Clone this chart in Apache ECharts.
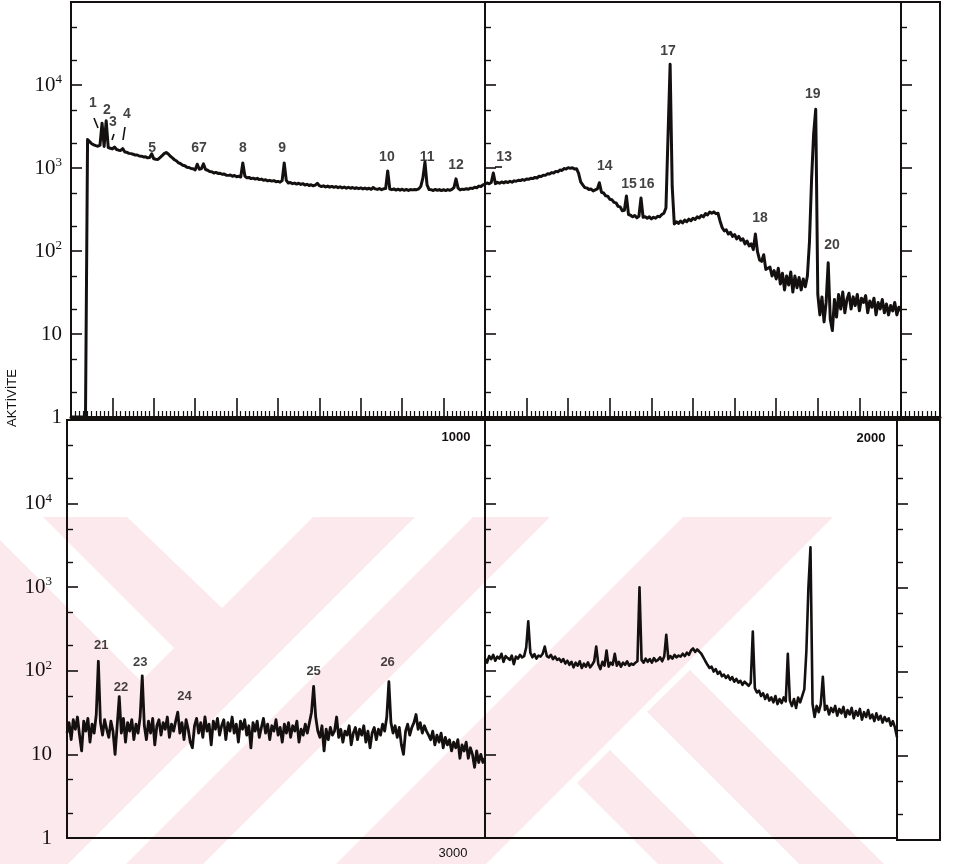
<!DOCTYPE html>
<html>
<head>
<meta charset="utf-8">
<script src="https://cdn.jsdelivr.net/npm/echarts@6/dist/echarts.min.js"></script>
<style>
html,body{margin:0;padding:0;background:#fff;}
#chart{width:954px;height:864px;}
</style>
</head>
<body>
<div id="chart"></div>
<script>
// ---- DATA (counts per 5 channels) ----
const STEP = 5;
const tlStart = 0, trStart = 1000, blStart = 2000, brStart = 3000;

const tlCounts = [1,1,1,1,1,1,1,1,2200,2080,
1960,1900,1860,1830,1880,3470,1820,3700,1760,1730,
1700,1790,1670,1640,1630,1710,1560,1545,1500,1490,
1465,1430,1435,1395,1390,1360,1365,1325,1340,1480,
1290,1275,1270,1335,1405,1490,1540,1475,1385,1325,
1255,1215,1150,1125,1080,1065,1020,1015,985,980,
950,1110,965,985,1120,960,940,905,900,870,
885,860,865,840,845,820,815,822,795,812,
785,795,778,1150,800,762,770,745,755,735,
750,725,735,712,722,700,710,695,705,685,
690,675,705,1150,710,660,668,648,658,640,
655,635,648,625,636,615,628,610,622,655,
612,598,610,592,606,588,600,585,598,580,
594,576,590,572,586,570,582,566,578,564,
576,560,574,558,570,554,582,560,552,566,
548,562,565,920,558,548,560,542,556,540,
555,538,552,536,550,545,550,548,560,600,
760,1180,625,550,548,535,552,538,550,534,
548,535,550,538,552,580,740,572,545,556,
552,562,555,572,565,585,578,605,598,625,640];

const trCounts = [640,660,645,668,870,648,672,655,680,662,
685,668,692,675,700,692,712,705,725,712,
738,730,752,745,770,758,795,790,820,815,
850,845,880,870,910,900,945,935,985,970,
1010,990,1005,975,980,860,680,625,580,575,
550,558,530,545,560,665,510,500,462,458,
420,415,385,380,345,340,305,310,460,275,
270,258,268,252,262,435,255,258,248,258,
244,255,248,262,258,275,285,330,2500,17800,
600,212,225,215,230,218,236,225,242,232,
248,240,258,250,268,258,282,272,295,285,
296,282,285,230,192,175,180,160,168,150,
158,140,150,135,140,122,132,115,122,104,
160,98,78,75,90,60,62,64,50,58,
46,62,40,54,34,50,39,56,32,50,
36,48,34,46,37,50,130,720,2600,5100,
30,17,28,14,24,72,15,11,26,16,
30,20,32,18,26,31,20,28,22,30,
19,27,24,29,18,25,21,27,17,24,
20,26,18,23,17,22,19,24,17,21,19];

const blCounts = [18,24,15,26,20,28,17,11,25,19,27,14,23,18,30,130,24,17,26,20,
16,25,19,10,22,49,18,27,14,24,19,26,15,23,18,28,87,22,15,25,
18,27,13,22,26,17,24,20,28,16,23,19,25,32,18,24,15,26,20,14,
12,22,27,18,24,16,28,19,23,13,25,20,27,17,22,26,15,24,19,28,
18,23,14,25,20,26,17,22,12,24,19,25,16,21,27,18,23,15,22,19,
26,17,21,14,23,18,24,16,22,19,25,14,20,17,23,18,24,32,65,28,
19,16,22,11,20,15,21,17,19,28,16,20,14,19,17,22,13,18,21,15,
20,17,22,14,19,12,18,21,15,20,17,23,19,28,74,24,18,22,16,21,
13,10,19,23,17,21,24,30,20,24,18,22,19,17,15,19,13,17,14,18,
12,16,13,15,11,14,12,15,9,13,11,14,9,12,10,7,11,8,10,8,9];

const brCounts = [140,125,150,138,155,132,148,140,160,128,150,142,135,152,120,148,140,155,145,150,
190,390,165,145,158,140,152,148,160,195,150,145,155,138,148,135,140,128,138,122,
132,118,128,110,125,115,130,108,122,112,126,110,118,130,195,120,105,128,115,175,
112,125,118,160,115,128,112,125,118,130,115,122,118,125,130,1000,135,125,140,128,
138,125,142,130,135,145,130,148,270,138,150,140,155,145,152,148,160,150,165,155,
175,185,168,180,170,160,145,130,118,108,112,98,105,92,98,86,90,82,88,78,
84,74,80,72,76,68,74,70,66,72,295,62,55,58,50,54,46,52,44,48,
42,50,40,46,41,48,43,160,44,38,46,36,48,42,50,60,170,1000,3000,40,
28,38,32,40,85,34,38,30,36,32,38,29,35,31,37,28,34,30,36,27,
33,29,35,26,32,28,34,27,30,25,31,26,29,24,28,25,27,22,25,21,16];

// peak labels: [channel, counts at label centre, text]
const tlPeaks = [[53,6000,'1'],[87,5000,'2'],[101,3560,'3'],[135,4470,'4'],[196,1740,'5'],
  [309,1740,'67'],[415,1740,'8'],[510,1740,'9'],[763,1350,'10'],[860,1350,'11'],[930,1090,'12']];
const trPeaks = [[1046,1350,'13'],[1288,1060,'14'],[1346,645,'15'],[1389,645,'16'],[1440,25500,'17'],
  [1661,251,'18'],[1788,7760,'19'],[1834,119,'20']];
const blPeaks = [[2082,200,'21'],[2129,63,'22'],[2175,126,'23'],[2281,49,'24'],[2590,98,'25'],[2767,126,'26']];

const yMajor = [1,10,100,1000,10000,100000];
const yLabels = [1,10,100,1000,10000];
const yMinor = [2,5,20,50,200,500,2000,5000,20000,50000];

// ---- BUILD ----
function toPairs(start, arr){ return arr.map((v,i)=>[start+i*STEP, v]); }

const INK = '#141010';
const grids = [
  {left:71, top:2, width:414, height:415},
  {left:485, top:2, width:416, height:415},
  {left:901, top:2, width:39, height:415},
  {left:67, top:420, width:418, height:418},
  {left:485, top:420, width:412, height:418},
  {left:897, top:420, width:43, height:420}
].map(g=>Object.assign({show:true, borderColor:INK, borderWidth:2, backgroundColor:'transparent'}, g));

function ruler(gi, min, max, interval, split){
  return {type:'value', gridIndex:gi, min:min, max:max, interval:interval,
    axisLine:{show:true, onZero:false, lineStyle:{color:INK, width:3}},
    axisTick:{show:true, inside:true, length:19, lineStyle:{color:INK, width:1.6}},
    minorTick:{show:true, splitNumber:split, length:6, lineStyle:{color:INK, width:1.2}},
    axisLabel:{show:false}, splitLine:{show:false}, minorSplitLine:{show:false}};
}
function plainX(gi, min, max){
  return {type:'value', gridIndex:gi, min:min, max:max,
    axisLine:{show:true, onZero:false, lineStyle:{color:INK, width:2}},
    axisTick:{show:false}, axisLabel:{show:false}, splitLine:{show:false}};
}
const xAxes = [
  ruler(0, 0, 1000, 100, 10),
  ruler(1, 1000, 2000, 100, 10),
  ruler(2, 0, 90, 90, 9),
  plainX(3, 2000, 3000),
  plainX(4, 3000, 4000),
  plainX(5, 0, 1)
];

const supRich = {
  n:{fontFamily:'Liberation Serif', fontSize:21, color:INK},
  s:{fontFamily:'Liberation Serif', fontSize:13, color:INK, padding:[0,0,11,0]}
};
function fmtY(v){
  if (v === 1) return '{n|1}';
  if (v === 10) return '{n|10}';
  return '{n|10}{s|' + Math.round(Math.log10(v)) + '}';
}
const yAxes = [];
grids.forEach((g, gi)=>{
  const labelled = (gi === 0 || gi === 3);
  yAxes.push({type:'log', logBase:10, min:1, max:100000, gridIndex:gi, position:'left',
    axisLine:{show:true, lineStyle:{color:INK, width:2}},
    axisTick:{show:true, inside:true, length:11, customValues:yMajor, lineStyle:{color:INK, width:1.6}},
    axisLabel:{show:labelled, customValues:yLabels, formatter:fmtY, rich:supRich,
      margin: gi === 0 ? 9 : 15},
    splitLine:{show:false}, minorTick:{show:false}});
  yAxes.push({type:'log', logBase:10, min:1, max:100000, gridIndex:gi, position:'left', offset:0,
    axisLine:{show:false},
    axisTick:{show:true, inside:true, length:6, customValues:yMinor, lineStyle:{color:INK, width:1.4}},
    axisLabel:{show:false}, splitLine:{show:false}});
});

function lineSeries(gi, start, arr, w){
  return {type:'line', xAxisIndex:gi, yAxisIndex:gi*2, data:toPairs(start, arr),
    symbol:'none', showSymbol:false, silent:true, animation:false, clip:true, z:5,
    lineStyle:{color:INK, width:w, join:'round'}};
}
function labelSeries(gi, peaks, fs){
  return {type:'scatter', xAxisIndex:gi, yAxisIndex:gi*2, data:peaks, symbolSize:0,
    silent:true, animation:false, z:6,
    label:{show:true, position:'inside', formatter:p=>p.data[2],
      fontFamily:'Liberation Sans', fontWeight:'bold', fontSize:fs, color:INK}};
}

// watermark (decorative scan background), pixel geometry
const PINK = '#fce9ed';
const wm = [
  {type:'rect', z:-30, shape:{x:0, y:517, width:954, height:347}, style:{fill:PINK}},
  {type:'polygon', z:-20, shape:{points:[[127,517],[313,517],[222,608]]}, style:{fill:'#fff'}},
  {type:'polygon', z:-20, shape:{points:[[0,517],[43,517],[174,648],[141,681],[0,540]]}, style:{fill:'#fff'}},
  {type:'polygon', z:-20, shape:{points:[[415,517],[473,517],[126,864],[68,864]]}, style:{fill:'#fff'}},
  {type:'polygon', z:-20, shape:{points:[[550,517],[683,517],[336,864],[203,864]]}, style:{fill:'#fff'}},
  {type:'polygon', z:-20, shape:{points:[[833,517],[954,517],[954,864],[486,864]]}, style:{fill:'#fff'}},
  {type:'polygon', z:-10, shape:{points:[[647,712],[690,670],[884,864],[799,864]]}, style:{fill:PINK}},
  {type:'polygon', z:-10, shape:{points:[[610,750],[577,783],[658,864],[724,864]]}, style:{fill:PINK}}
];

const txt = (x,y,t,opt)=>Object.assign({type:'text', x:x, y:y, z:20,
  style:Object.assign({text:t, fill:INK, fontFamily:'Liberation Sans', fontSize:13, fontWeight:'bold',
    align:'center', verticalAlign:'middle'}, opt||{})});
const ln = (x1,y1,x2,y2)=>({type:'line', z:20, shape:{x1:x1,y1:y1,x2:x2,y2:y2}, style:{stroke:INK, lineWidth:1.6}});

const annotations = [
  Object.assign(txt(12, 398, 'AKTİVİTE', {fontWeight:'normal', fontSize:13}), {rotation:Math.PI/2}),
  txt(456, 437, '1000'),
  txt(871, 438, '2000'),
  txt(453, 853, '3000', {fontWeight:'normal', fontSize:13}),
  ln(94,118,98,128), ln(114,134,112,140), ln(125,127,123,140), ln(495,167,502,167)
];

const option = {
  animation:false,
  backgroundColor:'#fff',
  grid:grids, xAxis:xAxes, yAxis:yAxes,
  series:[
    lineSeries(0, tlStart, tlCounts, 3), lineSeries(1, trStart, trCounts, 3),
    lineSeries(3, blStart, blCounts, 2.8), lineSeries(4, brStart, brCounts, 2.6),
    labelSeries(0, tlPeaks, 14), labelSeries(1, trPeaks, 14), labelSeries(3, blPeaks, 13)
  ],
  graphic:{elements: wm.concat(annotations)}
};

const chart = echarts.init(document.getElementById('chart'), null, {renderer:'canvas'});
chart.setOption(option);
</script>
</body>
</html>
